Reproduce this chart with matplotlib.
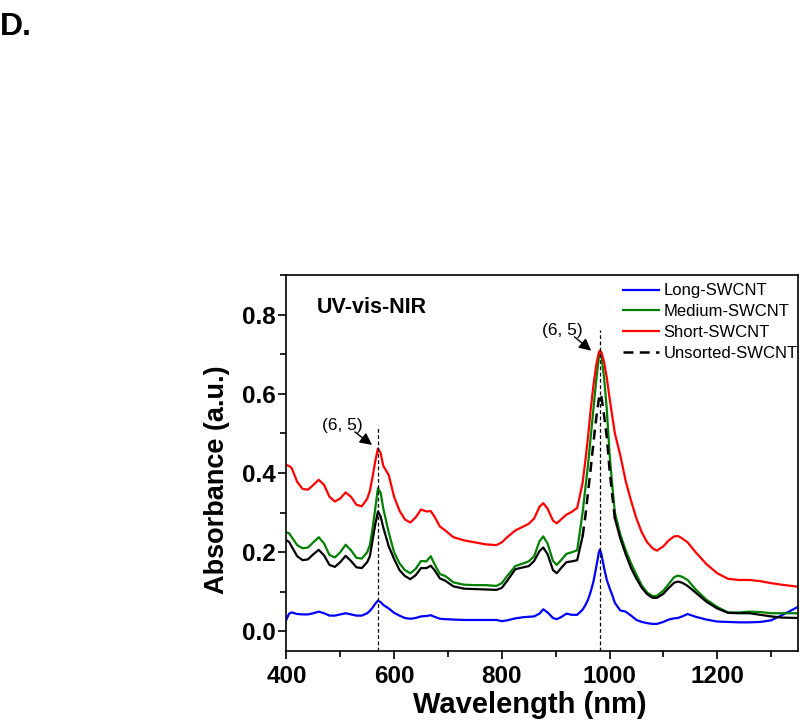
import matplotlib
matplotlib.use("Agg")
import matplotlib.pyplot as plt
import numpy as np
from matplotlib.ticker import MultipleLocator

plt.rcParams['font.family'] = ['Liberation Sans', 'DejaVu Sans']

wavelength = [400, 405, 410, 420, 430, 440, 450, 460, 470, 480, 490, 500, 510, 520, 530, 540,
              550, 555, 560, 565, 570, 575, 580, 590, 600, 610, 620, 630, 640, 650, 660, 668,
              675, 685, 695, 710, 730, 750, 770, 790, 800, 810, 825, 840, 850, 860, 870, 877,
              885, 895, 902, 910, 920, 930, 940, 950, 955, 960, 965, 970, 975, 980, 982, 985,
              990, 995, 1000, 1005, 1010, 1020, 1030, 1040, 1050, 1060, 1070, 1080, 1088, 1100,
              1110, 1120, 1127, 1135, 1145, 1160, 1180, 1200, 1220, 1240, 1260, 1280, 1300,
              1320, 1350]

long_swcnt = [0.030, 0.045, 0.048, 0.044, 0.043, 0.043, 0.046, 0.050, 0.046, 0.040, 0.040, 0.043,
              0.046, 0.043, 0.040, 0.040, 0.046, 0.052, 0.060, 0.070, 0.078, 0.074, 0.067, 0.058,
              0.047, 0.040, 0.034, 0.032, 0.034, 0.038, 0.039, 0.041, 0.037, 0.032, 0.031, 0.030,
              0.029, 0.029, 0.029, 0.029, 0.026, 0.028, 0.033, 0.036, 0.037, 0.038, 0.045, 0.056,
              0.048, 0.034, 0.031, 0.036, 0.045, 0.042, 0.042, 0.055, 0.066, 0.080, 0.100, 0.125,
              0.160, 0.198, 0.207, 0.195, 0.160, 0.130, 0.110, 0.092, 0.072, 0.053, 0.050, 0.040,
              0.029, 0.024, 0.021, 0.019, 0.019, 0.024, 0.030, 0.033, 0.034, 0.038, 0.044, 0.037,
              0.030, 0.025, 0.024, 0.023, 0.023, 0.024, 0.028, 0.041, 0.062]

medium_swcnt = [0.250, 0.248, 0.238, 0.218, 0.210, 0.212, 0.225, 0.238, 0.222, 0.193, 0.187, 0.200,
                0.219, 0.205, 0.186, 0.184, 0.200, 0.218, 0.260, 0.310, 0.362, 0.350, 0.310, 0.250,
                0.200, 0.172, 0.155, 0.147, 0.158, 0.178, 0.177, 0.190, 0.170, 0.145, 0.140, 0.124,
                0.118, 0.117, 0.117, 0.115, 0.122, 0.140, 0.165, 0.172, 0.177, 0.190, 0.228, 0.240,
                0.222, 0.178, 0.168, 0.180, 0.196, 0.200, 0.205, 0.300, 0.360, 0.420, 0.490, 0.560,
                0.630, 0.690, 0.703, 0.695, 0.640, 0.560, 0.450, 0.370, 0.300, 0.245, 0.205, 0.172,
                0.143, 0.116, 0.098, 0.089, 0.090, 0.103, 0.120, 0.137, 0.141, 0.138, 0.130, 0.106,
                0.080, 0.062, 0.048, 0.048, 0.050, 0.049, 0.046, 0.046, 0.046]

short_swcnt = [0.420, 0.418, 0.412, 0.378, 0.360, 0.358, 0.370, 0.383, 0.370, 0.340, 0.328, 0.336,
               0.351, 0.340, 0.320, 0.316, 0.335, 0.355, 0.390, 0.430, 0.462, 0.450, 0.418, 0.395,
               0.340, 0.305, 0.283, 0.275, 0.288, 0.308, 0.303, 0.304, 0.290, 0.265, 0.255, 0.238,
               0.230, 0.225, 0.220, 0.218, 0.225, 0.238, 0.255, 0.265, 0.272, 0.285, 0.315, 0.324,
               0.310, 0.280, 0.273, 0.283, 0.295, 0.302, 0.312, 0.375, 0.430, 0.490, 0.560, 0.620,
               0.670, 0.704, 0.709, 0.705, 0.680, 0.640, 0.590, 0.545, 0.500, 0.445, 0.380, 0.330,
               0.285, 0.250, 0.225, 0.210, 0.204, 0.215, 0.230, 0.240, 0.241, 0.235, 0.225, 0.200,
               0.170, 0.147, 0.133, 0.130, 0.130, 0.127, 0.122, 0.118, 0.113]

unsorted_swcnt = [0.230, 0.226, 0.214, 0.190, 0.180, 0.182, 0.195, 0.206, 0.192, 0.168, 0.163, 0.175,
                  0.191, 0.178, 0.162, 0.160, 0.175, 0.190, 0.230, 0.270, 0.303, 0.290, 0.262, 0.215,
                  0.183, 0.155, 0.140, 0.132, 0.142, 0.160, 0.160, 0.166, 0.155, 0.134, 0.128, 0.114,
                  0.108, 0.107, 0.106, 0.105, 0.110, 0.128, 0.157, 0.162, 0.165, 0.178, 0.203, 0.212,
                  0.195, 0.155, 0.147, 0.160, 0.175, 0.177, 0.180, 0.240, 0.290, 0.350, 0.410, 0.475,
                  0.535, 0.585, 0.600, 0.592, 0.545, 0.490, 0.410, 0.345, 0.285, 0.235, 0.195, 0.160,
                  0.133, 0.110, 0.094, 0.085, 0.085, 0.095, 0.110, 0.123, 0.126, 0.123, 0.115, 0.098,
                  0.075, 0.058, 0.047, 0.046, 0.046, 0.042, 0.038, 0.035, 0.034]

series_labels = ["Long-SWCNT", "Medium-SWCNT", "Short-SWCNT", "Unsorted-SWCNT"]
peak_positions = [571, 982]
peak_label = "(6, 5)"

fig = plt.figure(figsize=(8.0, 7.22), dpi=100)
ax = fig.add_axes([0.358, 0.098, 0.6395, 0.521])

wl = np.array(wavelength)
uns = np.array(unsorted_swcnt)

ax.plot(wl, long_swcnt, color='#0000ff', lw=1.6, label=series_labels[0])
ax.plot(wl, medium_swcnt, color='#008000', lw=1.6, label=series_labels[1])
ax.plot(wl, short_swcnt, color='#ff0000', lw=1.6, label=series_labels[2])
# unsorted: dense data makes the dashes look solid except on the steep E11 peak
left = wl <= 950
mid = (wl >= 950) & (wl <= 1010)
right = wl >= 1010
ax.plot(wl[left], uns[left], color='black', lw=1.6, label='_nolegend_')
ax.plot(wl[right], uns[right], color='black', lw=1.6, label='_nolegend_')
ax.plot(wl[mid], uns[mid], color='black', lw=1.8, ls=(0, (4, 2.5)), label=series_labels[3])

# vertical dashed markers at the (6,5) peaks
ax.plot([peak_positions[0], peak_positions[0]], [-0.05, 0.513], color='black', lw=0.9, ls=(0, (3, 2)))
ax.plot([peak_positions[1], peak_positions[1]], [-0.05, 0.761], color='black', lw=0.9, ls=(0, (3, 2)))

ax.text(504, 0.521, peak_label, fontsize=12.5, ha='center', va='center')
ax.text(913, 0.761, peak_label, fontsize=12.5, ha='center', va='center')
ax.annotate('', xy=(559, 0.471), xytext=(527, 0.504),
            arrowprops=dict(arrowstyle='-|>', color='black', lw=1.0, mutation_scale=18,
                            shrinkA=0, shrinkB=0))
ax.annotate('', xy=(966, 0.709), xytext=(935, 0.744),
            arrowprops=dict(arrowstyle='-|>', color='black', lw=1.0, mutation_scale=18,
                            shrinkA=0, shrinkB=0))

ax.text(0.06, 0.915, "UV-vis-NIR", transform=ax.transAxes, fontsize=15.5, fontweight='bold',
        ha='left', va='center')

ax.set_xlim(400, 1350)
ax.set_ylim(-0.05, 0.9)
ax.xaxis.set_major_locator(MultipleLocator(200))
ax.xaxis.set_minor_locator(MultipleLocator(100))
ax.yaxis.set_major_locator(MultipleLocator(0.2))
ax.yaxis.set_minor_locator(MultipleLocator(0.1))
ax.tick_params(which='major', direction='out', length=6, width=1.2, labelsize=17.5, pad=2)
ax.tick_params(which='minor', direction='out', length=4, width=1.2)
ax.tick_params(axis='x', which='major', pad=4)
for lab in ax.get_xticklabels() + ax.get_yticklabels():
    lab.set_fontweight('bold')
for sp in ax.spines.values():
    sp.set_linewidth(1.2)

ax.set_xlabel("Wavelength (nm)", fontsize=21, fontweight='bold')
ax.set_ylabel("Absorbance (a.u.)", fontsize=19.5, fontweight='bold')
ax.yaxis.set_label_coords(-0.111, 0.455)
ax.xaxis.set_label_coords(0.476, -0.105)

leg = ax.legend(loc='upper left', bbox_to_anchor=(0.657, 0.978), frameon=False, fontsize=12,
                handlelength=2.2, handletextpad=0.25, labelspacing=0.35, borderpad=0,
                borderaxespad=0)

fig.text(0.0, 0.963, "D.", fontsize=23, fontweight='bold', ha='left', va='center')

fig.savefig("out.png", dpi=100)
